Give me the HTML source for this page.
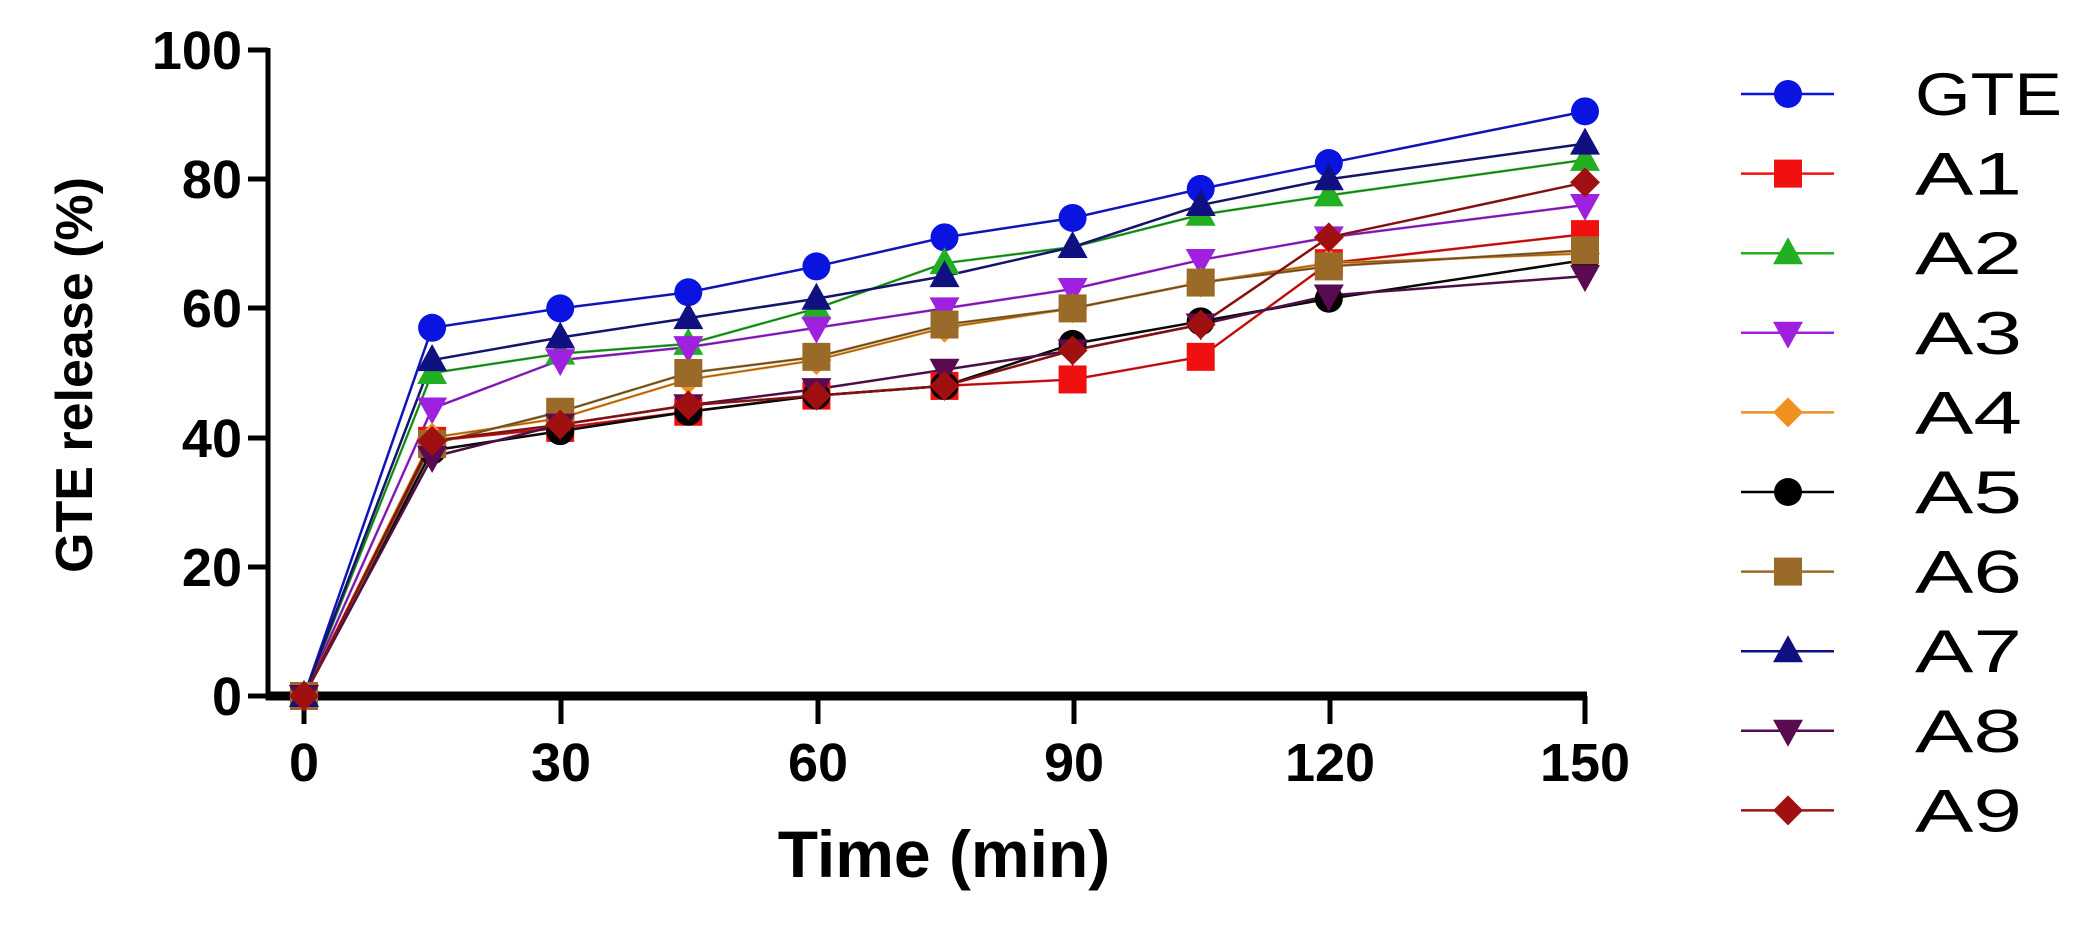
<!DOCTYPE html>
<html><head><meta charset="utf-8"><style>
html,body{margin:0;padding:0;background:#fff;width:2100px;height:931px;overflow:hidden}
text{font-family:"Liberation Sans",Arial,sans-serif}
</style></head><body>
<svg width="2100" height="931" xmlns="http://www.w3.org/2000/svg">
<defs>
<g id="circ"><circle r="14"/></g>
<g id="sq"><rect x="-14" y="-14" width="28" height="28"/></g>
<g id="up"><polygon points="0,-16 15,11 -15,11"/></g>
<g id="dn"><polygon points="0,16 15,-11 -15,-11"/></g>
<g id="dia"><polygon points="0,-15 15,0 0,15 -15,0"/></g>
</defs>
<g stroke="#000" stroke-width="5" fill="none">
<line x1="268" y1="48" x2="268" y2="700"/>
<line x1="248" y1="50" x2="268" y2="50"/>
<line x1="248" y1="179" x2="268" y2="179"/>
<line x1="248" y1="308" x2="268" y2="308"/>
<line x1="248" y1="438" x2="268" y2="438"/>
<line x1="248" y1="567" x2="268" y2="567"/>
<line x1="248" y1="696" x2="268" y2="696"/>
</g>
<line x1="266" y1="696" x2="1587" y2="696" stroke="#000" stroke-width="9"/>
<g stroke="#000" stroke-width="5">
<line x1="304" y1="696" x2="304" y2="724"/><line x1="561" y1="696" x2="561" y2="724"/><line x1="818" y1="696" x2="818" y2="724"/><line x1="1074" y1="696" x2="1074" y2="724"/><line x1="1330" y1="696" x2="1330" y2="724"/><line x1="1585" y1="696" x2="1585" y2="724"/>
</g>
<g font-size="54" font-weight="bold" text-anchor="end">
<text x="242" y="69">100</text><text x="242" y="198">80</text><text x="242" y="327">60</text><text x="242" y="457">40</text><text x="242" y="586">20</text><text x="242" y="715">0</text>
</g>
<g font-size="54" font-weight="bold" text-anchor="middle">
<text x="304" y="781">0</text><text x="561" y="781">30</text><text x="818" y="781">60</text><text x="1074" y="781">90</text><text x="1330" y="781">120</text><text x="1585" y="781">150</text>
</g>
<text x="944" y="877" font-size="66" font-weight="bold" text-anchor="middle">Time (min)</text>
<text transform="translate(92,375) rotate(-90)" font-size="52" font-weight="bold" text-anchor="middle">GTE release (%)</text>
<g id="series"></g>
<g id="legend"></g>
<script>
var X=[0,15,30,45,60,75,90,105,120,150];
var S=[
["GTE","#0a14e0","circ",[0,57,60,62.5,66.5,71,74,78.5,82.5,90.5]],
["A1","#f01010","sq",[0,39.5,41.5,44,46.5,48,49,52.5,67,71.5]],
["A2","#22b022","up",[0,50,53,54.5,60,67,69.5,74.5,77.5,83]],
["A3","#a020e0","dn",[0,44.5,52,54,57,60,63,67.5,71,76]],
["A4","#f09020","dia",[0,40,43,49,52,57,60,64,67,68.5]],
["A5","#000000","circ",[0,38,41,44,46.5,48,54.5,58,61.5,67.5]],
["A6","#9a6a28","sq",[0,39,44,50,52.5,57.5,60,64,66.5,69]],
["A7","#101080","up",[0,52,55.5,58.5,61.5,65,69.5,76,80,85.5]],
["A8","#5a0a50","dn",[0,37,42,45,47.5,50.5,53.5,57.5,62,65]],
["A9","#a01010","dia",[0,39.5,42,45,46.5,48,53.5,57.5,71,79.5]]];
var ns="http://www.w3.org/2000/svg",g=document.getElementById("series"),L=document.getElementById("legend");
function px(t){return 304+t*8.54}function py(v){return 696-v*6.46}
S.forEach(function(s,i){
 var pts=s[3].map(function(v,j){return px(X[j])+","+py(v)}).join(" ");
 var pl=document.createElementNS(ns,"polyline");pl.setAttribute("points",pts);pl.setAttribute("fill","none");pl.setAttribute("stroke",s[1]);pl.setAttribute("stroke-width","2.5");g.appendChild(pl);
 var pl2=document.createElementNS(ns,"polyline");pl2.setAttribute("points",pts);pl2.setAttribute("fill","none");pl2.setAttribute("stroke","#222");pl2.setAttribute("stroke-width","1");pl2.setAttribute("opacity","0.5");g.appendChild(pl2);
});
S.forEach(function(s){s[3].forEach(function(v,j){var u=document.createElementNS(ns,"use");u.setAttribute("href","#"+s[2]);u.setAttribute("x",px(X[j]));u.setAttribute("y",py(v));u.setAttribute("fill",s[1]);g.appendChild(u);});});
S.forEach(function(s,i){
 var y=94+i*79.6;
 var l=document.createElementNS(ns,"line");l.setAttribute("x1",1741);l.setAttribute("x2",1834);l.setAttribute("y1",y);l.setAttribute("y2",y);l.setAttribute("stroke",s[1]);l.setAttribute("stroke-width","2.5");L.appendChild(l);
 var u=document.createElementNS(ns,"use");u.setAttribute("href","#"+s[2]);u.setAttribute("x",1788);u.setAttribute("y",y);u.setAttribute("fill",s[1]);L.appendChild(u);
 var t=document.createElementNS(ns,"text");t.setAttribute("x",1915);t.setAttribute("y",y+21);t.setAttribute("font-size","60");t.setAttribute("textLength",s[0].length==3?"147":"107");t.setAttribute("lengthAdjust","spacingAndGlyphs");t.textContent=s[0];L.appendChild(t);
});
</script>
</svg>
</body></html>
